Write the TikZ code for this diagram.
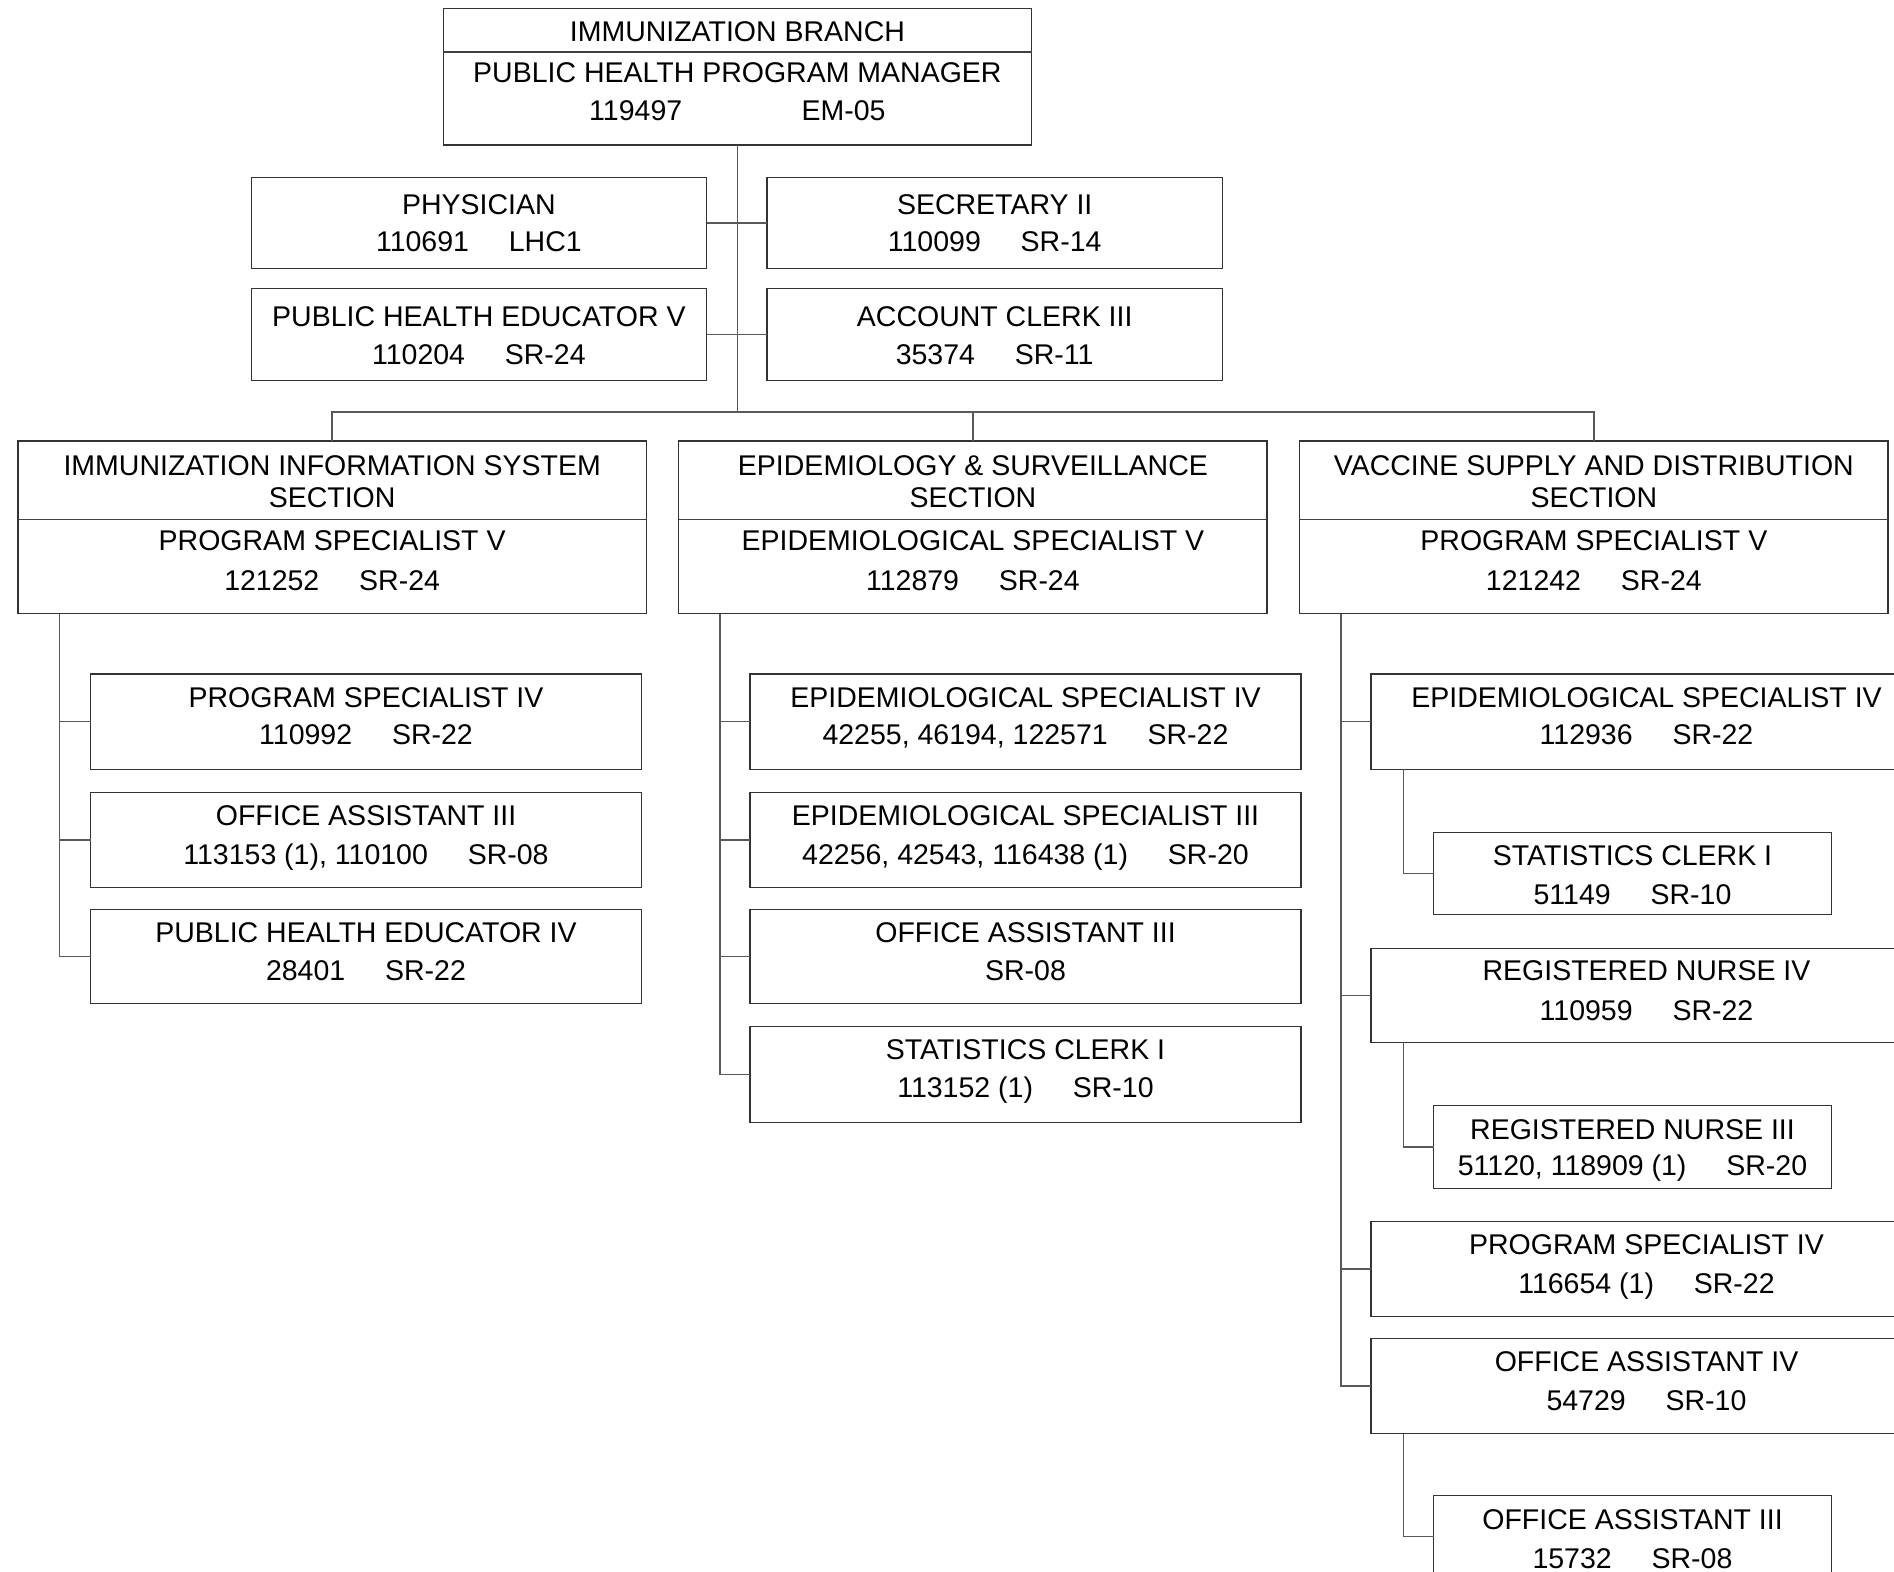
\documentclass[tikz,border=0pt]{standalone}
\usepackage{fontspec}
\setmainfont{Liberation Sans}
\usetikzlibrary{fit}
\newcommand\gapx{\hspace{1.4em}}
\newcommand\tline[4]{\node[lbl] (#1) at (#2.center |- 0,#3) {#4};}
\newcommand\bx[5]{\node[boxs, fit={(#2,#3) (#4,#5)}] (#1) {};}
\begin{document}
\begin{tikzpicture}[x=0.5pt, y=-0.5pt,
  boxs/.style={draw=black!80, line width=0.65pt, rectangle, inner sep=0pt, outer sep=0pt},
  conn/.style={draw=black!65, line width=0.7pt},
  divl/.style={draw=black!75, line width=0.6pt},
  lbl/.style={anchor=base, inner sep=0pt, outer sep=0pt, font=\fontsize{14.25pt}{19pt}\selectfont}]
\fill[white] (0,0) rectangle (1894,1571);
\useasboundingbox (0,0) rectangle (1894,1571);

% ---------- top box ----------
\bx{top}{443.3}{8.5}{1031.5}{145}
\draw[divl] ([yshift=-21.75pt]top.north west) -- ([yshift=-21.75pt]top.north east);
\tline{topa}{top}{41.6}{IMMUNIZATION BRANCH}
\tline{topb}{top}{82.7}{PUBLIC HEALTH PROGRAM MANAGER}
\tline{topc}{top}{120.2}{119497\hspace{4.19em}EM-05}

% ---------- staff boxes ----------
\bx{phys}{251.2}{177.6}{706.6}{268.2}
\tline{physa}{phys}{214.2}{PHYSICIAN}
\tline{physb}{phys}{251.8}{110691\gapx LHC1}
\bx{secy}{767}{177.6}{1222.4}{268.2}
\tline{secya}{secy}{214.2}{SECRETARY II}
\tline{secyb}{secy}{251.8}{110099\gapx SR-14}
\bx{phe}{251.2}{288.7}{706.6}{380.5}
\tline{phea}{phe}{326.7}{PUBLIC HEALTH EDUCATOR V}
\tline{pheb}{phe}{364.2}{110204\gapx SR-24}
\bx{acct}{767}{288.7}{1222.4}{380.5}
\tline{accta}{acct}{326.7}{ACCOUNT CLERK III}
\tline{acctb}{acct}{364.2}{35374\gapx SR-11}

% ---------- section boxes ----------
\bx{sa}{18.1}{441}{646.2}{613.6}
\bx{sb}{678.8}{441}{1267}{613.6}
\bx{sc}{1299.7}{441}{1888}{613.6}
\foreach \s in {sa,sb,sc}{
  \draw[divl] ([yshift=-39.2pt]\s.north west) -- ([yshift=-39.2pt]\s.north east);
}
\tline{saa}{sa}{475.2}{IMMUNIZATION INFORMATION SYSTEM}
\tline{sab}{sa}{507.9}{SECTION}
\tline{sac}{sa}{550.2}{PROGRAM SPECIALIST V}
\tline{sad}{sa}{590}{121252\gapx SR-24}
\tline{sba}{sb}{475.2}{EPIDEMIOLOGY \& SURVEILLANCE}
\tline{sbb}{sb}{507.9}{SECTION}
\tline{sbc}{sb}{550.2}{EPIDEMIOLOGICAL SPECIALIST V}
\tline{sbd}{sb}{590}{112879\gapx SR-24}
\tline{sca}{sc}{475.2}{VACCINE SUPPLY AND DISTRIBUTION}
\tline{scb}{sc}{507.9}{SECTION}
\tline{scc}{sc}{550.2}{PROGRAM SPECIALIST V}
\tline{scd}{sc}{590}{121242\gapx SR-24}

% ---------- IIS children ----------
\bx{aa}{90.6}{674}{641.4}{769.4}
\tline{aaa}{aa}{707.2}{PROGRAM SPECIALIST IV}
\tline{aab}{aa}{744.6}{110992\gapx SR-22}
\bx{ab}{90.6}{792.4}{641.4}{887.8}
\tline{aba}{ab}{825.5}{OFFICE ASSISTANT III}
\tline{abb}{ab}{864.2}{113153 (1), 110100\gapx SR-08}
\bx{ac}{90.6}{909.5}{641.4}{1003.8}
\tline{aca}{ac}{942.7}{PUBLIC HEALTH EDUCATOR IV}
\tline{acb}{ac}{980.2}{28401\gapx SR-22}

% ---------- Epi children ----------
\bx{ba}{750.1}{674}{1300.9}{769.4}
\tline{baa}{ba}{707.2}{EPIDEMIOLOGICAL SPECIALIST IV}
\tline{bab}{ba}{744.6}{42255, 46194, 122571\gapx SR-22}
\bx{bb}{750.1}{792.4}{1300.9}{887.8}
\tline{bba}{bb}{825.5}{EPIDEMIOLOGICAL SPECIALIST III}
\tline{bbb}{bb}{864.2}{42256, 42543, 116438 (1)\gapx SR-20}
\bx{bc}{750.1}{909.5}{1300.9}{1003.8}
\tline{bca}{bc}{942.7}{OFFICE ASSISTANT III}
\tline{bcb}{bc}{980.2}{SR-08}
\bx{bd}{750.1}{1026.7}{1300.9}{1122.2}
\tline{bda}{bd}{1059.9}{STATISTICS CLERK I}
\tline{bdb}{bd}{1097.2}{113152 (1)\gapx SR-10}

% ---------- Vaccine children ----------
\bx{ca}{1371}{674}{1922}{769.4}
\tline{caa}{ca}{707.2}{EPIDEMIOLOGICAL SPECIALIST IV}
\tline{cab}{ca}{744.6}{112936\gapx SR-22}
\bx{cas}{1433.8}{832.2}{1831.2}{914.4}
\tline{casa}{cas}{865.4}{STATISTICS CLERK I}
\tline{casb}{cas}{904}{51149\gapx SR-10}
\bx{cb}{1371}{948.2}{1922}{1042.4}
\tline{cba}{cb}{980.2}{REGISTERED NURSE IV}
\tline{cbb}{cb}{1020}{110959\gapx SR-22}
\bx{cbs}{1433.8}{1105.2}{1831.2}{1188.6}
\tline{cbsa}{cbs}{1139.6}{REGISTERED NURSE III}
\tline{cbsb}{cbs}{1175.8}{51120, 118909 (1)\gapx SR-20}
\bx{cc}{1371}{1221.2}{1922}{1316.6}
\tline{cca}{cc}{1254.3}{PROGRAM SPECIALIST IV}
\tline{ccb}{cc}{1293}{116654 (1)\gapx SR-22}
\bx{cd}{1371}{1338.4}{1922}{1433.8}
\tline{cda}{cd}{1371.5}{OFFICE ASSISTANT IV}
\tline{cdb}{cd}{1410.2}{54729\gapx SR-10}
\bx{cds}{1433.8}{1495.4}{1831.2}{1578}
\tline{cdsa}{cds}{1529.7}{OFFICE ASSISTANT III}
\tline{cdsb}{cds}{1568.4}{15732\gapx SR-08}

% ---------- connectors ----------
\coordinate (bus) at ([yshift=14.5pt]sb.north);
\draw[conn] (top.south) -- (top.south |- bus);
\draw[conn] (sa.north) |- (bus) -| (sc.north);
\draw[conn] (sb.north) -- (bus);
\draw[conn] (phys.east) -- (secy.west);
\draw[conn] (phe.east) -- (acct.west);

\coordinate (ja) at ([xshift=20.55pt]sa.south west);
\coordinate (jb) at ([xshift=20.55pt]sb.south west);
\coordinate (jc) at ([xshift=20.55pt]sc.south west);
\foreach \c in {aa,ab,ac}{ \draw[conn] (ja) |- (\c.west); }
\foreach \c in {ba,bb,bc,bd}{ \draw[conn] (jb) |- (\c.west); }
\foreach \c in {ca,cb,cc,cd}{ \draw[conn] (jc) |- (\c.west); }

\coordinate (ka) at ([xshift=16.3pt]ca.south west);
\coordinate (kb) at ([xshift=16.3pt]cb.south west);
\coordinate (kd) at ([xshift=16.3pt]cd.south west);
\draw[conn] (ka) |- (cas.west);
\draw[conn] (kb) |- (cbs.west);
\draw[conn] (kd) |- (cds.west);
\end{tikzpicture}
\end{document}
